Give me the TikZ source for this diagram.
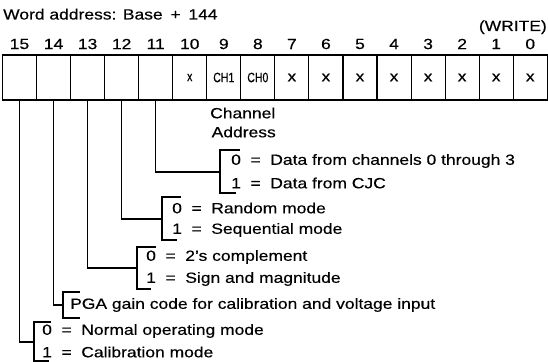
\documentclass[tikz,border=0pt]{standalone}
\usepackage{fontspec}
\setmainfont{Liberation Sans}[FakeBold=0.35]
\usepackage{graphicx}
\newcommand{\wide}[1]{\scalebox{1.18}[1]{#1}}
\newcommand{\narrow}[1]{\scalebox{0.78}[1]{#1}}
\newcommand{\eq}{\hspace{0.55em}=\hspace{0.55em}}
\begin{document}
\begin{tikzpicture}[x=1pt,y=-1pt,
  txt/.style={inner sep=0pt, font=\fontsize{14.8}{17}\selectfont},
  small/.style={inner sep=0pt, font=\fontsize{13.5}{15}\selectfont},
  cell/.style={draw, line width=1.1pt, minimum width=34.05pt, minimum height=45pt, inner sep=0pt, outer sep=0pt},
  lead/.style={line width=1.5pt},
  brace/.style={line width=1.9pt}]
\useasboundingbox (0,0) rectangle (548,361);
% register cells
\foreach \k in {0,...,15} {
  \node[cell] (b\k) at ({19.5+(15-\k)*34.05}, 77.5) {};
  \node[txt] (n\k) at ({19.5+(15-\k)*34.05}, 44) {\wide{\k}};
}
\node[txt, anchor=base west] (title) at (3,19.5) {\wide{Word address: Base \,+\, 144}};
\node[txt, anchor=base east] (write) at (547,31) {\wide{(WRITE)}};
% cell contents
\node[small] (x10) at (b10) {\narrow{x}};
\node[small] (ch1) at (b9) {\narrow{CH1}};
\node[small] (ch0) at (b8) {\narrow{CH0}};
\foreach \k in {0,...,7} { \node[txt] (x\k) at (b\k) {\wide{x}}; }
% channel address label
\node[txt, anchor=west] (chan) at (210,113) {\wide{Channel}};
\node[txt, anchor=west] (addr) at (211.5,132) {\wide{Address}};
% junctions
\coordinate (j11) at (220,172);
\coordinate (j12) at (162,219);
\coordinate (j13) at (137,268);
\coordinate (j14) at (63,305);
\coordinate (j15) at (34,342);
\draw[lead] (b11.south) |- (j11);
\draw[lead] (b12.south) |- (j12);
\draw[lead] (b13.south) |- (j13);
\draw[lead] (b14.south) |- (j14);
\draw[lead] (b15.south) |- (j15);
% brackets
\draw[brace] (240,150) -- (220,150) -- (220,193) -- (236,193);
\draw[brace] (181,197) -- (162,197) -- (162,240) -- (177,240);
\draw[brace] (156,247) -- (137,247) -- (137,289) -- (151,289);
\draw[brace] (80,292) -- (63,292) -- (63,318) -- (80,318);
\draw[brace] (51,322) -- (34,322) -- (34,361) -- (49,361);
% texts
\node[txt, anchor=west] (t1a) at (231,161) {\wide{0\eq Data from channels 0 through 3}};
\node[txt, anchor=west] (t1b) at (231,183) {\wide{1\eq Data from CJC}};
\node[txt, anchor=west] (t2a) at (172,208) {\wide{0\eq Random mode}};
\node[txt, anchor=west] (t2b) at (172,230) {\wide{1\eq Sequential mode}};
\node[txt, anchor=west] (t3a) at (146,257) {\wide{0\eq 2’s complement}};
\node[txt, anchor=west] (t3b) at (146,279) {\wide{1\eq Sign and magnitude}};
\node[txt, anchor=west] (t4) at (70,305) {\wide{PGA gain code for calibration and voltage input}};
\node[txt, anchor=west] (t5a) at (42,331) {\wide{0\eq Normal operating mode}};
\node[txt, anchor=west] (t5b) at (42,352) {\wide{1\eq Calibration mode}};
\end{tikzpicture}
\end{document}
